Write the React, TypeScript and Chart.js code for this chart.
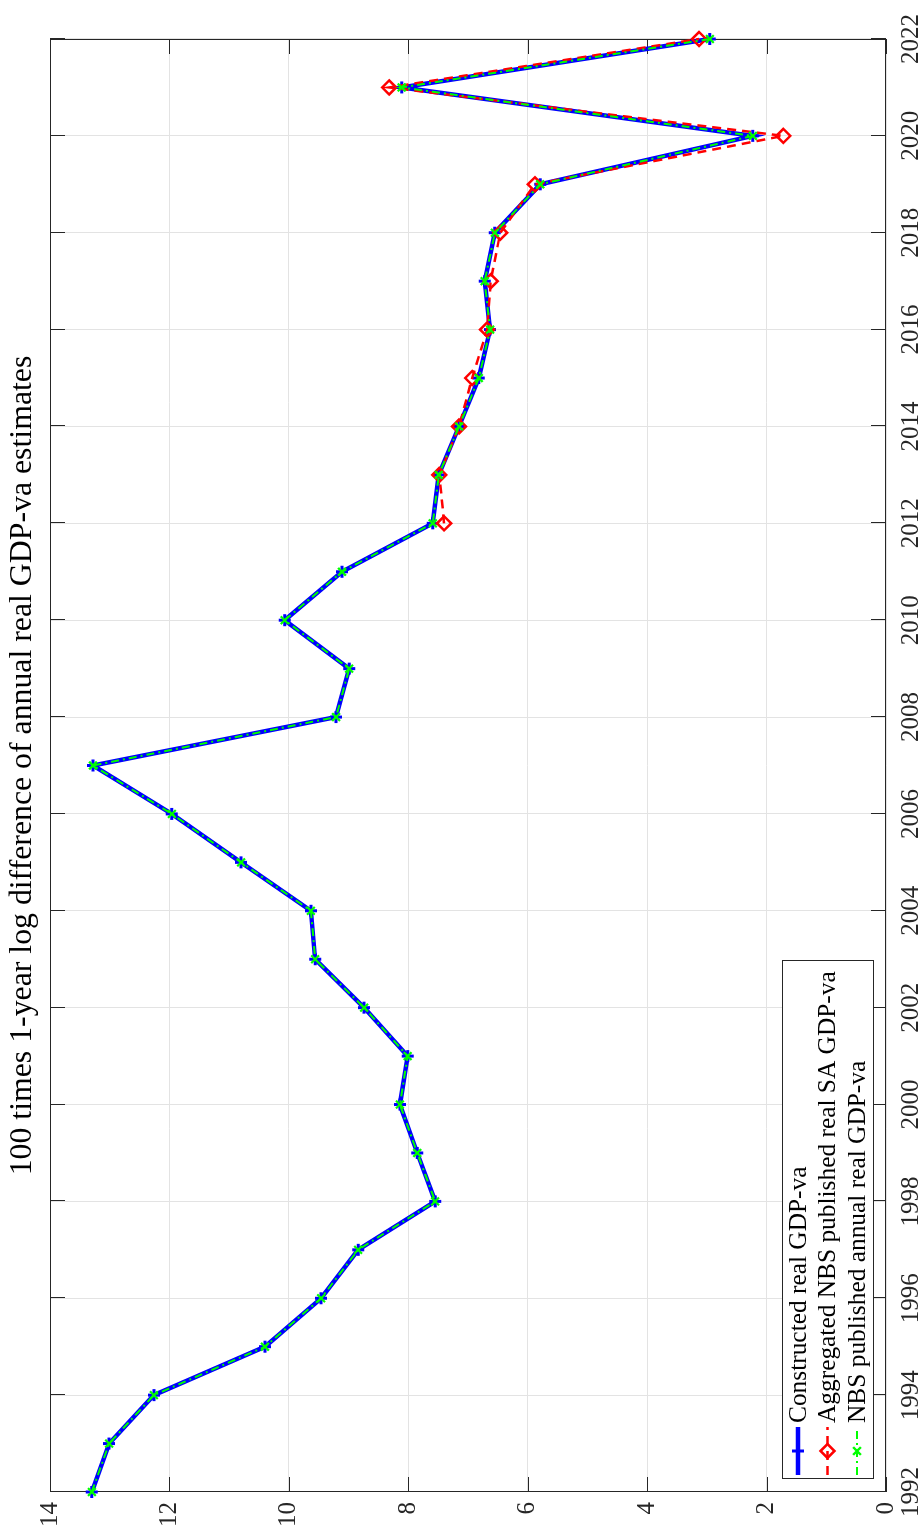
import React, { useEffect, useRef } from "react";
import { Chart, registerables } from "chart.js";

Chart.register(...registerables);

// ---------- data ----------
const years = [
  1992, 1993, 1994, 1995, 1996, 1997, 1998, 1999, 2000, 2001, 2002, 2003, 2004, 2005, 2006, 2007,
  2008, 2009, 2010, 2011, 2012, 2013, 2014, 2015, 2016, 2017, 2018, 2019, 2020, 2021, 2022,
];
const constructedGdpVa = [
  13.3, 13.01, 12.26, 10.4, 9.46, 8.84, 7.55, 7.85, 8.14, 8.01, 8.74, 9.56, 9.63, 10.8, 11.96, 13.28,
  9.21, 8.99, 10.07, 9.11, 7.59, 7.49, 7.15, 6.82, 6.63, 6.72, 6.55, 5.79, 2.23, 8.11, 2.95,
];
const aggregatedSaGdpVa = [
  null, null, null, null, null, null, null, null, null, null, null, null, null, null, null, null,
  null, null, null, null, 7.4, 7.48, 7.15, 6.93, 6.68, 6.62, 6.46, 5.88, 1.72, 8.32, 3.13,
];
const nbsAnnualGdpVa = [
  13.3, 13.01, 12.26, 10.4, 9.46, 8.84, 7.55, 7.85, 8.14, 8.01, 8.74, 9.56, 9.63, 10.8, 11.96, 13.28,
  9.21, 8.99, 10.07, 9.11, 7.59, 7.49, 7.15, 6.82, 6.63, 6.72, 6.55, 5.79, 2.23, 8.11, 2.95,
];
const seriesLabels = [
  "Constructed real GDP-va",
  "Aggregated NBS published real SA GDP-va",
  "NBS published annual real GDP-va",
];
const yearTicks = [1992, 1994, 1996, 1998, 2000, 2002, 2004, 2006, 2008, 2010, 2012, 2014, 2016, 2018, 2020, 2022];
const valueTicks = [0, 2, 4, 6, 8, 10, 12, 14];
const titleText = "100 times 1-year log difference of annual real GDP-va estimates";

// ---------- style ----------
const W = 1528;
const H = 924;
const FONT = '"Liberation Serif", "Times New Roman", serif';
const AXIS = "#262626";
const GRID = "#e3e3e3";
const BLUE = "#0000ff";
const RED = "#ff0000";
const GREEN = "#00ff00";

type Marker = "plus" | "diamond" | "cross";
const seriesStyles: { color: string; width: number; dash: number[]; marker: Marker; r: number; mw: number }[] = [
  { color: BLUE, width: 4.5, dash: [], marker: "plus", r: 6, mw: 3 },
  { color: RED, width: 2.5, dash: [9, 6], marker: "diamond", r: 7, mw: 2.5 },
  { color: GREEN, width: 2, dash: [8, 4, 2, 4], marker: "cross", r: 5.5, mw: 2.2 },
];

function drawMarker(ctx: CanvasRenderingContext2D, m: Marker, x: number, y: number, r: number) {
  ctx.beginPath();
  if (m === "plus") {
    ctx.moveTo(x - r, y);
    ctx.lineTo(x + r, y);
    ctx.moveTo(x, y - r);
    ctx.lineTo(x, y + r);
  } else if (m === "cross") {
    const d = r * 0.7071;
    ctx.moveTo(x - d, y - d);
    ctx.lineTo(x + d, y + d);
    ctx.moveTo(x - d, y + d);
    ctx.lineTo(x + d, y - d);
  } else {
    ctx.moveTo(x, y - r);
    ctx.lineTo(x + r, y);
    ctx.lineTo(x, y + r);
    ctx.lineTo(x - r, y);
    ctx.closePath();
  }
  ctx.stroke();
}

function fitFont(ctx: CanvasRenderingContext2D, text: string, target: number) {
  ctx.font = `100px ${FONT}`;
  const w = ctx.measureText(text).width;
  return (100 * target) / w;
}

const framePlugin = {
  id: "frame",
  beforeDatasetsDraw(chart: any) {
    const { ctx, chartArea } = chart;
    const { left, right, top, bottom } = chartArea;
    const xs = chart.scales.x;
    const ys = chart.scales.y;
    const L = 15;
    ctx.save();
    ctx.strokeStyle = AXIS;
    ctx.lineWidth = 1;
    ctx.beginPath();
    yearTicks.forEach((v) => {
      const px = Math.round(xs.getPixelForValue(v)) + 0.5;
      ctx.moveTo(px, top);
      ctx.lineTo(px, top + L);
      ctx.moveTo(px, bottom);
      ctx.lineTo(px, bottom - L);
    });
    valueTicks.forEach((v) => {
      const py = Math.round(ys.getPixelForValue(v)) + 0.5;
      ctx.moveTo(left, py);
      ctx.lineTo(left + L, py);
      ctx.moveTo(right, py);
      ctx.lineTo(right - L, py);
    });
    ctx.stroke();
    ctx.strokeRect(Math.round(left) + 0.5, Math.round(top) + 0.5, Math.round(right - left) - 1, Math.round(bottom - top) - 1);
    ctx.restore();
  },
};

const legendPlugin = {
  id: "matlabLegend",
  afterDatasetsDraw(chart: any) {
    const { ctx, chartArea } = chart;
    const bx = Math.round(chartArea.left) + 13;
    const by = Math.round(chartArea.bottom) - 104;
    const bw = 518;
    const bh = 91;
    ctx.save();
    ctx.fillStyle = "#ffffff";
    ctx.fillRect(bx, by, bw, bh);
    ctx.strokeStyle = AXIS;
    ctx.lineWidth = 1;
    ctx.strokeRect(bx + 0.5, by + 0.5, bw, bh);
    const size = fitFont(ctx, seriesLabels[1], 452);
    seriesLabels.forEach((label, i) => {
      const st = seriesStyles[i];
      const cy = by + 16 + i * 29.5;
      ctx.strokeStyle = st.color;
      ctx.lineWidth = st.width;
      ctx.setLineDash(st.dash);
      ctx.beginPath();
      ctx.moveTo(bx + 4, cy);
      ctx.lineTo(bx + 52, cy);
      ctx.stroke();
      ctx.setLineDash([]);
      ctx.lineWidth = st.mw;
      drawMarker(ctx, st.marker, bx + 28, cy, st.r);
      ctx.fillStyle = "#000000";
      ctx.font = `${size}px ${FONT}`;
      ctx.textAlign = "left";
      ctx.textBaseline = "middle";
      ctx.fillText(label, bx + 56, cy + 1);
    });
    ctx.restore();
  },
};

const titlePlugin = {
  id: "matlabTitle",
  afterDraw(chart: any) {
    const { ctx, chartArea } = chart;
    ctx.save();
    const size = fitFont(ctx, titleText, 820);
    ctx.font = `${size}px ${FONT}`;
    ctx.fillStyle = "#000000";
    ctx.textAlign = "center";
    ctx.textBaseline = "alphabetic";
    ctx.fillText(titleText, (chartArea.left + chartArea.right) / 2, 31);
    ctx.restore();
  },
};

function makeData(vals: (number | null)[]) {
  return years.map((x, i) => ({ x, y: vals[i] }));
}

export default function App() {
  const canvasRef = useRef<HTMLCanvasElement | null>(null);

  useEffect(() => {
    const canvas = canvasRef.current;
    if (!canvas) return;
    const series = [constructedGdpVa, aggregatedSaGdpVa, nbsAnnualGdpVa];
    const chart = new Chart(canvas, {
      type: "line",
      data: {
        datasets: series.map((vals, i) => {
          const st = seriesStyles[i];
          return {
            label: seriesLabels[i],
            data: makeData(vals),
            borderColor: st.color,
            borderWidth: st.width,
            borderDash: st.dash,
            backgroundColor: st.color,
            pointStyle: st.marker === "plus" ? "cross" : st.marker === "diamond" ? "rectRot" : "crossRot",
            pointRadius: st.r,
            pointBorderWidth: st.mw,
            pointBorderColor: st.color,
            pointBackgroundColor: "rgba(0,0,0,0)",
            pointHoverRadius: st.r,
            tension: 0,
            fill: false,
            spanGaps: false,
            clip: false,
            order: 3 - i,
          } as any;
        }),
      },
      options: {
        animation: false,
        responsive: false,
        devicePixelRatio: 1,
        events: [],
        layout: { padding: { left: 0, right: 39, top: 50, bottom: 0 } },
        scales: {
          x: {
            type: "linear",
            min: 1992,
            max: 2022,
            afterBuildTicks: (s: any) => {
              s.ticks = yearTicks.map((value) => ({ value }));
            },
            afterFit: (s: any) => {
              s.height = 38;
            },
            ticks: {
              autoSkip: false,
              maxRotation: 0,
              minRotation: 0,
              padding: 10,
              color: AXIS,
              font: { family: FONT, size: 25 },
              callback: (v: any) => String(v),
            },
            grid: { color: GRID, lineWidth: 1, drawTicks: false },
            border: { display: false },
          },
          y: {
            type: "linear",
            min: 0,
            max: 14,
            afterBuildTicks: (s: any) => {
              s.ticks = valueTicks.map((value) => ({ value }));
            },
            afterFit: (s: any) => {
              s.width = 36;
            },
            ticks: {
              autoSkip: false,
              padding: 10,
              color: AXIS,
              font: { family: FONT, size: 25 },
              callback: (v: any) => String(v),
            },
            grid: { color: GRID, lineWidth: 1, drawTicks: false },
            border: { display: false },
          },
        },
        plugins: {
          legend: { display: false },
          tooltip: { enabled: false },
          title: { display: false },
        },
      },
      plugins: [framePlugin, legendPlugin, titlePlugin],
    } as any);
    return () => chart.destroy();
  }, []);

  return (
    <div style={{ position: "absolute", left: 0, top: 0, width: H, height: W, overflow: "hidden", background: "#fff" }}>
      <div
        style={{
          position: "absolute",
          left: 0,
          top: 0,
          width: W,
          height: H,
          transformOrigin: "0 0",
          transform: `translate(0px, ${W}px) rotate(-90deg)`,
        }}
      >
        <canvas ref={canvasRef} width={W} height={H} style={{ display: "block", width: W, height: H }} />
      </div>
    </div>
  );
}
